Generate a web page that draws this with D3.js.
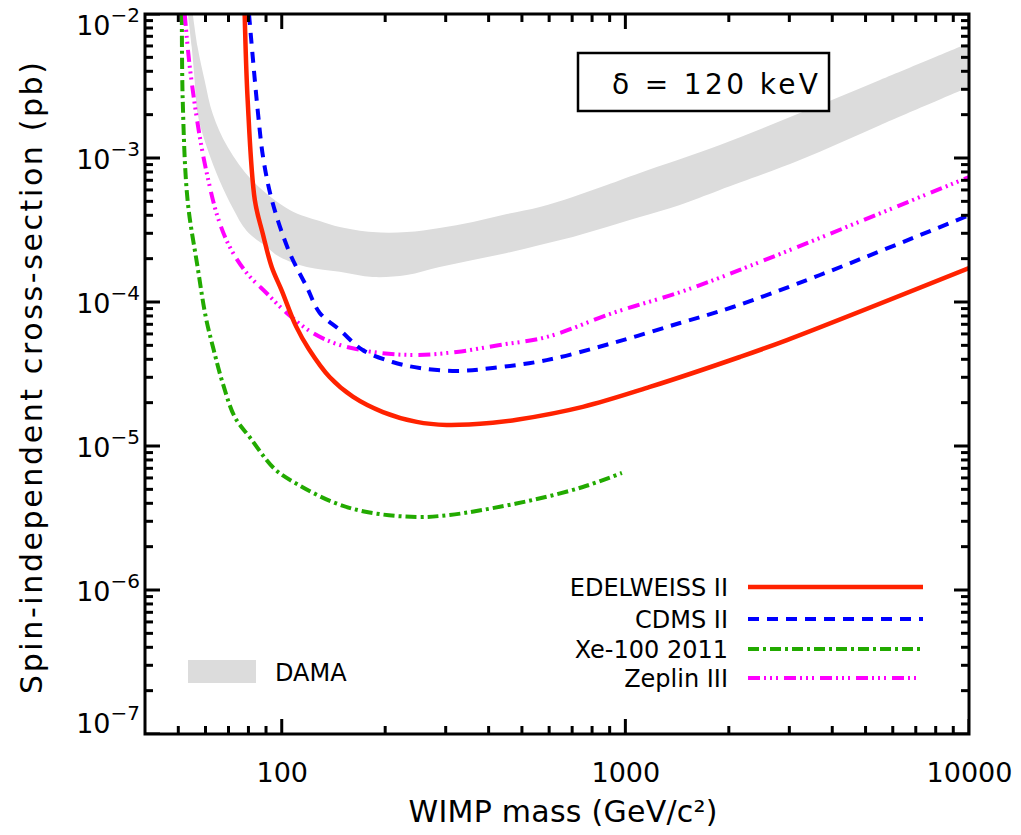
<!DOCTYPE html>
<html><head><meta charset="utf-8">
<script src="https://cdn.jsdelivr.net/npm/d3@7"></script>
<style>body{margin:0;background:#fff} svg{display:block}</style>
</head><body>
<svg id="chart" width="1021" height="835"></svg>
<script>
// ---------- data ----------
const xDomain = [40, 10000];
const yDomain = [1e-7, 1e-2];
const xMajor = [100, 1000, 10000];
const xTickLabels = ["100", "1000", "10000"];
const xMinorTicks = [50, 60, 70, 80, 90, 200, 300, 400, 500, 600, 700, 800, 900, 2000, 3000, 4000, 5000, 6000, 7000, 8000, 9000];
const yMajor = [1e-7, 1e-6, 1e-5, 1e-4, 1e-3, 1e-2];
const yTickExp = ["−7", "−6", "−5", "−4", "−3", "−2"];

const seriesNames = ["EDELWEISS II", "CDMS II", "Xe-100 2011", "Zeplin III"];
const seriesColors = ["#ff2200", "#0000ff", "#22aa00", "#ff00ff"];
const seriesDash = [null, "11,8", "11,4,3,4", "12,4,2,4,2,4,2,6"];

const massEdelweiss = [78, 79.6, 83.5, 88, 93.5, 100, 110, 120, 138, 161, 197, 247, 302, 411, 483, 752, 1178, 2153, 2952, 10000];
const sigmaEdelweiss = [1e-2, 2.5e-3, 5.1e-4, 3.0e-4, 1.75e-4, 1.2e-4, 6.8e-5, 4.7e-5, 3.0e-5, 2.2e-5, 1.72e-5, 1.47e-5, 1.40e-5, 1.45e-5, 1.52e-5, 1.87e-5, 2.57e-5, 4.15e-5, 5.44e-5, 1.72e-4];

const massCdms = [80.3, 85.1, 88.5, 94.1, 105.5, 118.3, 129, 147.5, 172, 210, 252, 323, 411, 590, 920, 1442, 2056, 3684, 10000];
const sigmaCdms = [1e-2, 2.16e-3, 9.7e-4, 4.87e-4, 2.19e-4, 1.27e-4, 8.4e-5, 6.4e-5, 4.64e-5, 3.83e-5, 3.48e-5, 3.32e-5, 3.48e-5, 3.95e-5, 5.19e-5, 7.15e-5, 9.23e-5, 1.54e-4, 4.0e-4];

const massXe = [51.2, 51.5, 53.2, 56.9, 60.1, 63.4, 67.3, 73.0, 80.7, 95.5, 112, 140.8, 176.8, 247, 308, 385, 538, 752, 977];
const sigmaXe = [1e-2, 2.53e-3, 5.11e-4, 1.75e-4, 7.87e-5, 4.64e-5, 2.74e-5, 1.59e-5, 1.15e-5, 6.9e-6, 5.37e-6, 4.08e-6, 3.48e-6, 3.21e-6, 3.32e-6, 3.6e-6, 4.22e-6, 5.19e-6, 6.5e-6];

const massZeplin = [52.2, 54.0, 57.5, 60.5, 65.1, 70.6, 79.1, 90.4, 103.4, 123.1, 147.5, 192.8, 247, 323, 431, 590, 920, 1442, 2153, 10000];
const sigmaZeplin = [1e-2, 4.28e-3, 1.49e-3, 7.87e-4, 3.89e-4, 2.41e-4, 1.59e-4, 1.15e-4, 8.39e-5, 6.1e-5, 5.03e-5, 4.43e-5, 4.29e-5, 4.5e-5, 5.03e-5, 5.71e-5, 8.39e-5, 1.17e-4, 1.67e-4, 7.38e-4];

const damaUpperMass = [55.1, 56.9, 59.7, 63.0, 69.6, 82.3, 105.5, 129, 147.5, 184, 231, 288, 360, 452, 564, 703, 883, 1102, 1884, 3221, 5508, 10000];
const damaUpperSigma = [1e-2, 5.9e-3, 3.43e-3, 2.02e-3, 1.19e-3, 6.92e-4, 4.36e-4, 3.65e-4, 3.32e-4, 3.06e-4, 3.06e-4, 3.27e-4, 3.6e-4, 4.08e-4, 4.57e-4, 5.36e-4, 6.49e-4, 7.87e-4, 1.23e-3, 2.05e-3, 3.48e-3, 6.29e-3];
const damaLowerMass = [53.3, 54.7, 55.8, 56.9, 60.5, 66.0, 72.0, 79.1, 90.4, 98.7, 118.3, 147.5, 184, 231, 288, 360, 452, 564, 703, 883, 1102, 1441, 1884, 3221, 5508, 10000];
const damaLowerSigma = [1e-2, 5.9e-3, 3.43e-3, 2.02e-3, 1.19e-3, 6.92e-4, 4.5e-4, 3.11e-4, 2.41e-4, 2.05e-4, 1.75e-4, 1.62e-4, 1.49e-4, 1.54e-4, 1.75e-4, 1.96e-4, 2.19e-4, 2.49e-4, 2.83e-4, 3.32e-4, 3.89e-4, 4.72e-4, 6.0e-4, 9.68e-4, 1.69e-3, 3.11e-3];

const xTitle = "WIMP mass (GeV/c²)";
const yTitle = "Spin-independent cross-section (pb)";
const boxLabel = "δ = 120 keV";
const damaLabel = "DAMA";

// ---------- layout ----------
const L = 145, R = 969, T = 14, B = 734;
const FONT = "DejaVu Sans, Liberation Sans, sans-serif";
const svg = d3.select("#chart");
const x = d3.scaleLog().domain(xDomain).range([L, R]);
const y = d3.scaleLog().domain(yDomain).range([B, T]);

const yMinorTicks = [];
yMajor.slice(0, -1).forEach(p => { for (let k = 2; k <= 9; k++) yMinorTicks.push(k * p); });

svg.append("defs").append("clipPath").attr("id", "clip")
  .append("rect").attr("x", L).attr("y", T).attr("width", R - L).attr("height", B - T);

const plot = svg.append("g").attr("clip-path", "url(#clip)");

// DAMA band
const upper = damaUpperMass.map((m, i) => [m, damaUpperSigma[i]]);
const lower = damaLowerMass.map((m, i) => [m, damaLowerSigma[i]]);
const edge = d3.line().x(d => x(d[0])).y(d => y(d[1])).curve(d3.curveCatmullRom.alpha(0.5));
const upPath = edge(upper);
const lowPath = edge(lower.slice().reverse());
plot.append("path")
  .attr("d", upPath + "L" + lowPath.slice(1) + "Z")
  .attr("fill", "#dcdcdc").attr("stroke", "none");

// curves
const seriesData = [
  massEdelweiss.map((m, i) => [m, sigmaEdelweiss[i]]),
  massCdms.map((m, i) => [m, sigmaCdms[i]]),
  massXe.map((m, i) => [m, sigmaXe[i]]),
  massZeplin.map((m, i) => [m, sigmaZeplin[i]])
];
const widths = [4.5, 4, 4, 4];
const line = d3.line().x(d => x(d[0])).y(d => y(d[1])).curve(d3.curveCatmullRom.alpha(0.5));
[2, 3, 1, 0].forEach(i => {
  plot.append("path").attr("d", line(seriesData[i]))
    .attr("fill", "none").attr("stroke", seriesColors[i])
    .attr("stroke-width", widths[i])
    .attr("stroke-dasharray", seriesDash[i]);
});

// inward tick marks on all four sides
const tickLayer = plot.append("g");
function tickLines(data, fx1, fy1, fx2, fy2) {
  tickLayer.selectAll(null).data(data).enter().append("line")
    .attr("x1", fx1).attr("y1", fy1).attr("x2", fx2).attr("y2", fy2)
    .attr("stroke", "#000").attr("stroke-width", 3);
}
tickLines(xMajor, d => x(d), B, d => x(d), B - 15);
tickLines(xMajor, d => x(d), T, d => x(d), T + 15);
tickLines(xMinorTicks, d => x(d), B, d => x(d), B - 8);
tickLines(xMinorTicks, d => x(d), T, d => x(d), T + 8);
tickLines(yMajor, L, d => y(d), L + 15, d => y(d));
tickLines(yMajor, R, d => y(d), R - 15, d => y(d));
tickLines(yMinorTicks, L, d => y(d), L + 8, d => y(d));
tickLines(yMinorTicks, R, d => y(d), R - 8, d => y(d));

// axis labels via d3 axes
const gxB = svg.append("g").attr("transform", `translate(0,${B})`)
  .call(d3.axisBottom(x).tickValues(xMajor).tickSize(0).tickPadding(29)
    .tickFormat((d, i) => xTickLabels[i]));
gxB.select(".domain").remove();
gxB.selectAll(".tick text").attr("font-size", 27).attr("font-family", FONT).attr("fill", "#000");

const gyL = svg.append("g").attr("transform", `translate(${L},0)`)
  .call(d3.axisLeft(y).tickValues(yMajor).tickSize(0).tickPadding(5).tickFormat(() => ""));
gyL.select(".domain").remove();
gyL.selectAll(".tick text").each(function (d, i) {
  const t = d3.select(this).attr("font-size", 27).attr("font-family", FONT).attr("fill", "#000");
  let shift = 0;
  if (i === yMajor.length - 1) shift = 10;
  if (i === 0) shift = -12;
  t.attr("dy", null).attr("y", 10 + shift);
  t.append("tspan").text("10");
  t.append("tspan").attr("font-size", 20).attr("dy", -13).text(yTickExp[i]);
});

// frame
svg.append("rect").attr("x", L).attr("y", T).attr("width", R - L).attr("height", B - T)
  .attr("fill", "none").attr("stroke", "#000").attr("stroke-width", 3);

// titles
svg.append("text").attr("x", (L + R) / 2 + 6).attr("y", 822).attr("text-anchor", "middle")
  .attr("font-family", FONT).attr("font-size", 30).attr("textLength", 309).attr("lengthAdjust", "spacing")
  .text(xTitle);
svg.append("text").attr("transform", "translate(42,378) rotate(-90)").attr("text-anchor", "middle")
  .attr("font-family", FONT).attr("font-size", 30).attr("textLength", 632).attr("lengthAdjust", "spacing")
  .text(yTitle);

// delta box
svg.append("rect").attr("x", 578).attr("y", 53).attr("width", 251).attr("height", 58)
  .attr("fill", "#fff").attr("stroke", "#000").attr("stroke-width", 2.5);
svg.append("text").attr("x", 612).attr("y", 94).attr("font-family", FONT).attr("font-size", 28)
  .attr("textLength", 206).attr("lengthAdjust", "spacing").text(boxLabel);

// legend
const legY = [587, 619, 649, 678];
const legEnd = [923, 923, 923, 918];
seriesNames.forEach((n, i) => {
  svg.append("line").attr("x1", 748).attr("x2", legEnd[i]).attr("y1", legY[i]).attr("y2", legY[i])
    .attr("stroke", seriesColors[i]).attr("stroke-width", widths[i]).attr("stroke-dasharray", seriesDash[i]);
  svg.append("text").attr("x", 728).attr("y", legY[i]).attr("dy", "0.36em").attr("text-anchor", "end")
    .attr("font-family", FONT).attr("font-size", 24).text(n);
});
svg.append("rect").attr("x", 188).attr("y", 660).attr("width", 68).attr("height", 23).attr("fill", "#dcdcdc");
svg.append("text").attr("x", 275).attr("y", 672).attr("dy", "0.36em")
  .attr("font-family", FONT).attr("font-size", 24).text(damaLabel);
</script>
</body></html>
